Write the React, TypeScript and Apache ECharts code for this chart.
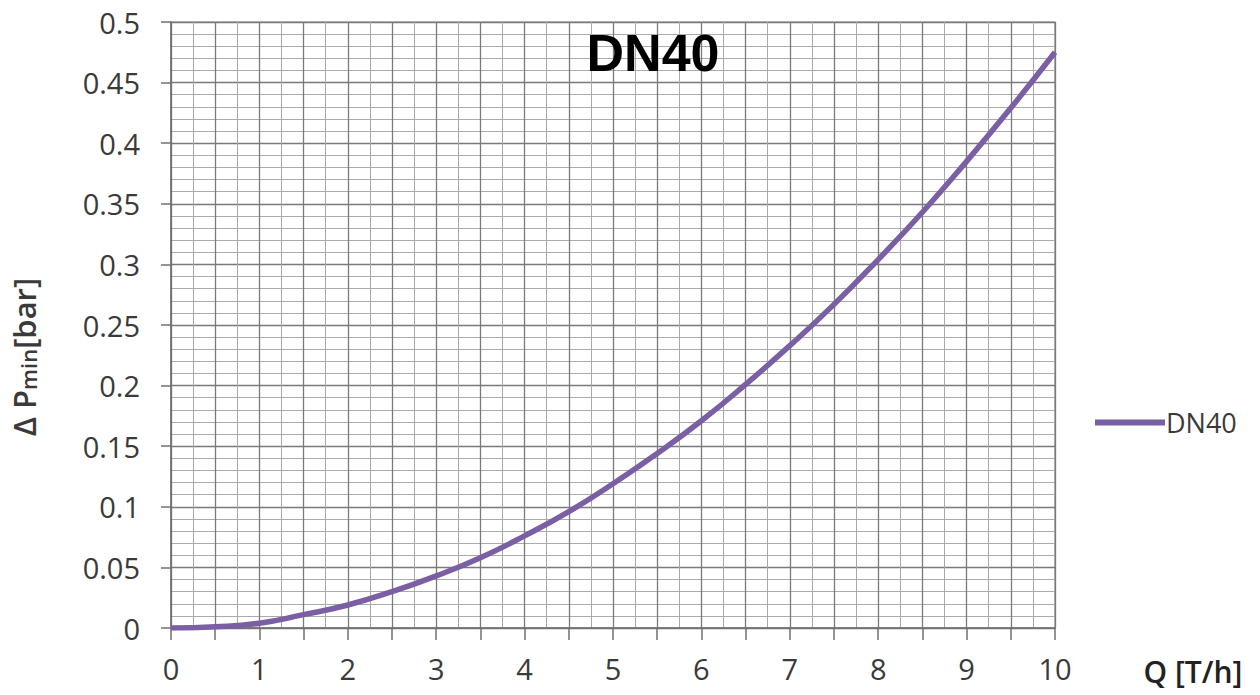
import React, { useEffect, useRef } from "react";
import * as echarts from "echarts";

const flowQ = [0, 0.5, 1, 1.5, 2, 2.5, 3, 3.5, 4, 4.5, 5, 5.5, 6, 6.5, 7, 7.5, 8, 8.5, 9, 9.5, 10];
const deltaP = [0, 0.001, 0.004, 0.011, 0.019, 0.030, 0.043, 0.058, 0.076, 0.096, 0.119, 0.144, 0.171, 0.201, 0.233, 0.267, 0.304, 0.343, 0.385, 0.429, 0.475];
const seriesName = "DN40";
const titleText = "DN40";
const xName = "Q [T/h]";

export default function App() {
  const ref = useRef<HTMLDivElement>(null);
  useEffect(() => {
    if (!ref.current) return;
    const chart = echarts.init(ref.current, undefined, { renderer: "svg" });
    const font = "Open Sans";
    const labelColor = "#3a3a3a";
    chart.setOption({
      animation: false,
      backgroundColor: "#ffffff",
      legend: {
        data: [seriesName],
        left: 1090,
        top: 404,
        orient: "vertical",
        itemWidth: 70,
        itemHeight: 10,
        itemGap: 4,
        icon: "path://M0,0 L70,0 L70,6 L0,6 Z",
        textStyle: { fontFamily: font, fontSize: 27, color: labelColor, padding: [0, 0, 0, -4] },
      },
      graphic: [
        {
          type: "text",
          x: 653,
          y: 53,
          z: 100,
          zlevel: 1,
          style: {
            text: titleText,
            fontFamily: "Liberation Sans",
            fontWeight: "bold",
            fontSize: 52,
            fill: "#000",
            align: "center",
            verticalAlign: "middle",
          },
        },
        {
          type: "text",
          x: 24,
          y: 357,
          z: 100,
          rotation: Math.PI / 2,
          style: {
            text: "{a|Δ P}{b|min}{a|[bar]}",
            rich: {
              a: { fontFamily: font, fontSize: 31, fontWeight: 600, fill: labelColor },
              b: { fontFamily: font, fontSize: 22, fontWeight: 600, fill: labelColor, padding: [7, 0, 0, 0] },
            },
            align: "center",
            verticalAlign: "middle",
          },
        },
        {
          type: "text",
          x: 1193,
          y: 671,
          z: 100,
          style: {
            text: xName,
            fontFamily: font,
            fontSize: 30,
            fontWeight: 600,
            fill: "#222",
            align: "center",
            verticalAlign: "middle",
          },
        },
      ],
      grid: { left: 171, right: 205, top: 22, bottom: 67, show: true, borderColor: "#808080", borderWidth: 1.2 },
      xAxis: {
        type: "value",
        min: 0,
        max: 10,
        interval: 0.5,
        axisLine: { show: true, lineStyle: { color: "#707070", width: 1.5 } },
        axisTick: { show: true, length: 12, lineStyle: { color: "#707070", width: 1.5 } },
        axisLabel: {
          formatter: (v: number) => (Number.isInteger(v) ? String(v) : ""),
          fontFamily: font,
          fontSize: 29,
          color: labelColor,
          margin: 26,
          showMaxLabel: true,
          showMinLabel: true,
        },
        splitLine: { show: true, lineStyle: { color: "#7a7a7a", width: 1.3 } },
        minorTick: { show: false, splitNumber: 2 },
        minorSplitLine: { show: true, lineStyle: { color: "#a8a8a8", width: 1 } },
      },
      yAxis: {
        type: "value",
        min: 0,
        max: 0.5,
        interval: 0.05,
        axisLine: { show: true, lineStyle: { color: "#707070", width: 1.5 } },
        axisTick: { show: true, length: 10, lineStyle: { color: "#707070", width: 1.5 } },
        axisLabel: {
          formatter: (v: number) => String(Math.round(v * 100) / 100),
          fontFamily: font,
          fontSize: 29,
          color: labelColor,
          margin: 31,
        },
        splitLine: { show: true, lineStyle: { color: "#7a7a7a", width: 1.3 } },
        minorTick: { show: false, splitNumber: 5 },
        minorSplitLine: { show: true, lineStyle: { color: "#ababab", width: 1 } },
      },
      series: [
        {
          name: seriesName,
          type: "line",
          data: flowQ.map((q, i) => [q, deltaP[i]]),
          smooth: true,
          showSymbol: false,
          symbol: "none",
          lineStyle: { color: "#7b5fa5", width: 5.5 },
          itemStyle: { color: "#7b5fa5" },
        },
      ],
    });
    return () => chart.dispose();
  }, []);
  return <div ref={ref} style={{ width: 1260, height: 695, position: "absolute", left: 0, top: 0 }} />;
}
